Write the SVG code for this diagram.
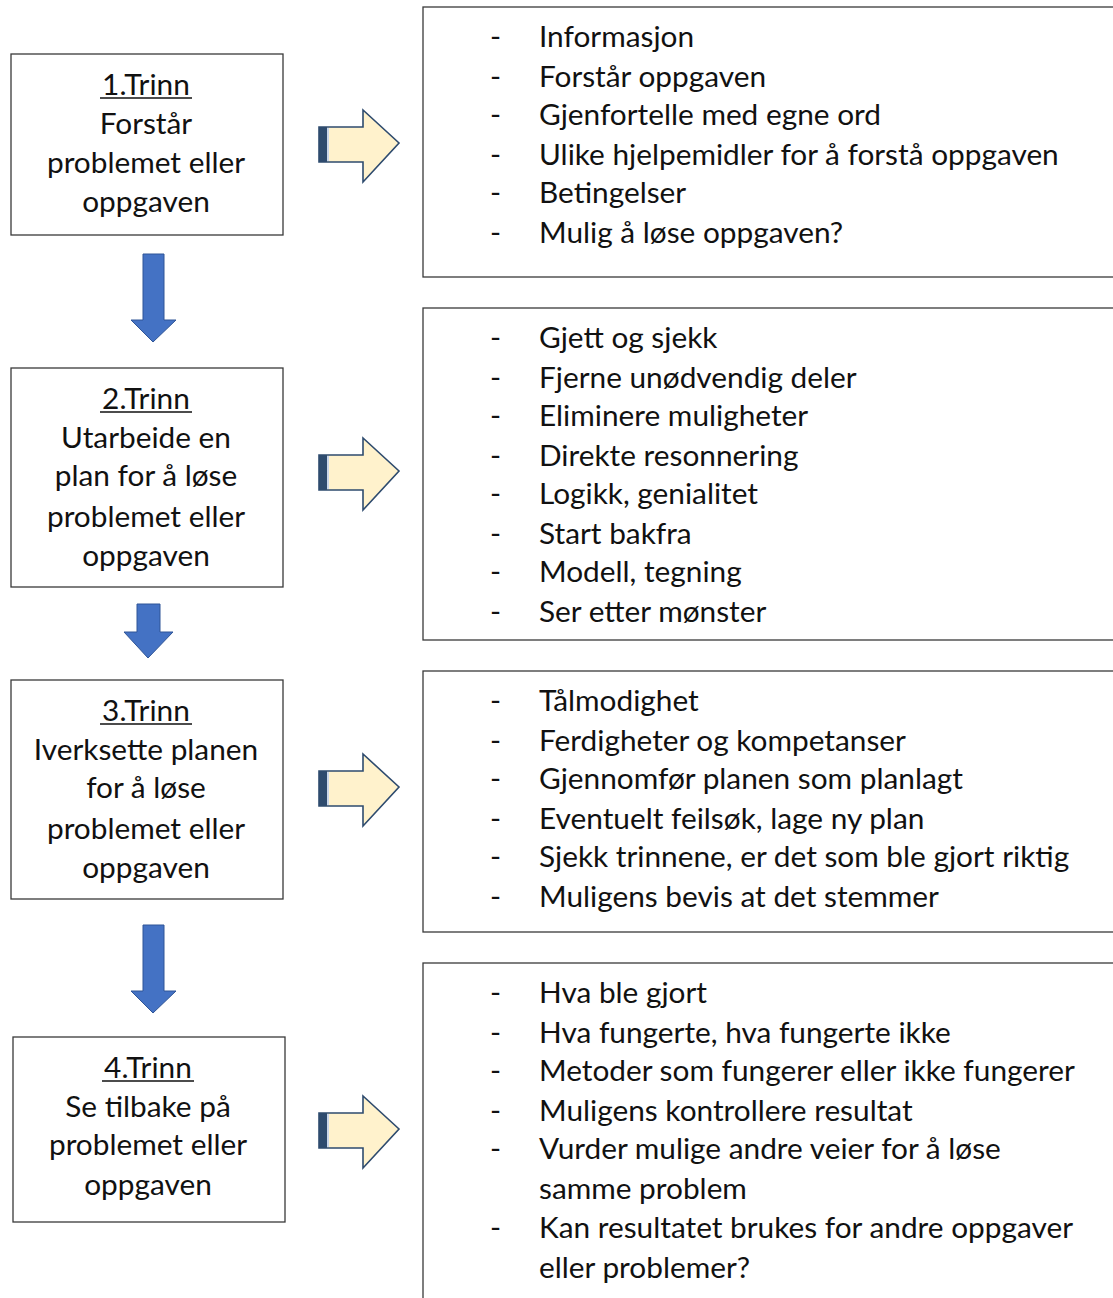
<svg xmlns="http://www.w3.org/2000/svg" width="1113" height="1298" viewBox="0 0 1113 1298">
<style>
.box{fill:#fff;stroke:#3a3a3a;stroke-width:1.3}
.t{font-family:Lato,"Liberation Sans",sans-serif;font-size:29.8px;fill:#111}
.c{text-anchor:middle}
.dn{fill:#4472C4;stroke:#2F5597;stroke-width:1}
.ra{fill:#FFF2CC;stroke:#2E4B6E;stroke-width:1.6}
.bar{fill:#2E4B6E}
.ul{stroke:#111;stroke-width:1.6}
</style>
<rect width="1113" height="1298" fill="#fff"/>
<defs>
<g id="rarrow">
<path class="ra" d="M319,127 H363 V110 L399,143 L363,182 V162 H319 Z"/>
<rect class="bar" x="319" y="127" width="8" height="35"/>
<rect fill="#C9D6EA" x="327" y="128" width="2" height="33"/>
</g>
</defs>
<g id="connectors">
<path class="dn" d="M143,254 H164 V320 H176 L153,342 L131,320 H143 Z"/>
<path class="dn" d="M137,604 H160 V632 H173 L148,658 L124,632 H137 Z"/>
<path class="dn" d="M143,925 H164 V991 H176 L153,1013 L131,991 H143 Z"/>
<use href="#rarrow"/>
<use href="#rarrow" transform="translate(0,328)"/>
<use href="#rarrow" transform="translate(0,644)"/>
<use href="#rarrow" transform="translate(0,986)"/>
</g>
<g id="step1">
<rect class="box" x="11" y="54" width="272" height="181"/>
<text class="t c" x="146" y="95">1.Trinn</text>
<line class="ul" x1="100" y1="98" x2="192" y2="98"/>
<text class="t c" x="146" y="134">Forstår</text>
<text class="t c" x="146" y="173">problemet eller</text>
<text class="t c" x="146" y="212">oppgaven</text>
</g>
<g id="step2">
<rect class="box" x="11" y="368" width="272" height="219"/>
<text class="t c" x="146" y="409">2.Trinn</text>
<line class="ul" x1="100" y1="412" x2="192" y2="412"/>
<text class="t c" x="146" y="448">Utarbeide en</text>
<text class="t c" x="146" y="486">plan for å løse</text>
<text class="t c" x="146" y="527">problemet eller</text>
<text class="t c" x="146" y="566">oppgaven</text>
</g>
<g id="step3">
<rect class="box" x="11" y="680" width="272" height="219"/>
<text class="t c" x="146" y="721">3.Trinn</text>
<line class="ul" x1="100" y1="724" x2="192" y2="724"/>
<text class="t c" x="146" y="760">Iverksette planen</text>
<text class="t c" x="146" y="798">for å løse</text>
<text class="t c" x="146" y="839">problemet eller</text>
<text class="t c" x="146" y="878">oppgaven</text>
</g>
<g id="step4">
<rect class="box" x="13" y="1037" width="272" height="185"/>
<text class="t c" x="148" y="1078">4.Trinn</text>
<line class="ul" x1="102" y1="1081" x2="194" y2="1081"/>
<text class="t c" x="148" y="1117">Se tilbake på</text>
<text class="t c" x="148" y="1155">problemet eller</text>
<text class="t c" x="148" y="1195">oppgaven</text>
</g>
<g id="list1">
<rect class="box" x="423" y="7" width="700" height="270"/>
<text class="t" x="490" y="47">-</text><text class="t" x="539" y="47">Informasjon</text>
<text class="t" x="490" y="87">-</text><text class="t" x="539" y="87">Forstår oppgaven</text>
<text class="t" x="490" y="125">-</text><text class="t" x="539" y="125">Gjenfortelle med egne ord</text>
<text class="t" x="490" y="165">-</text><text class="t" x="539" y="165">Ulike hjelpemidler for å forstå oppgaven</text>
<text class="t" x="490" y="203">-</text><text class="t" x="539" y="203">Betingelser</text>
<text class="t" x="490" y="243">-</text><text class="t" x="539" y="243">Mulig å løse oppgaven?</text>
</g>
<g id="list2">
<rect class="box" x="423" y="308" width="700" height="332"/>
<text class="t" x="490" y="348">-</text><text class="t" x="539" y="348">Gjett og sjekk</text>
<text class="t" x="490" y="388">-</text><text class="t" x="539" y="388">Fjerne unødvendig deler</text>
<text class="t" x="490" y="426">-</text><text class="t" x="539" y="426">Eliminere muligheter</text>
<text class="t" x="490" y="466">-</text><text class="t" x="539" y="466">Direkte resonnering</text>
<text class="t" x="490" y="504">-</text><text class="t" x="539" y="504">Logikk, genialitet</text>
<text class="t" x="490" y="544">-</text><text class="t" x="539" y="544">Start bakfra</text>
<text class="t" x="490" y="582">-</text><text class="t" x="539" y="582">Modell, tegning</text>
<text class="t" x="490" y="622">-</text><text class="t" x="539" y="622">Ser etter mønster</text>
</g>
<g id="list3">
<rect class="box" x="423" y="671" width="700" height="261"/>
<text class="t" x="490" y="711">-</text><text class="t" x="539" y="711">Tålmodighet</text>
<text class="t" x="490" y="751">-</text><text class="t" x="539" y="751">Ferdigheter og kompetanser</text>
<text class="t" x="490" y="789">-</text><text class="t" x="539" y="789">Gjennomfør planen som planlagt</text>
<text class="t" x="490" y="829">-</text><text class="t" x="539" y="829">Eventuelt feilsøk, lage ny plan</text>
<text class="t" x="490" y="867">-</text><text class="t" x="539" y="867">Sjekk trinnene, er det som ble gjort riktig</text>
<text class="t" x="490" y="907">-</text><text class="t" x="539" y="907">Muligens bevis at det stemmer</text>
</g>
<g id="list4">
<rect class="box" x="423" y="963" width="700" height="345"/>
<text class="t" x="490" y="1003">-</text><text class="t" x="539" y="1003">Hva ble gjort</text>
<text class="t" x="490" y="1043">-</text><text class="t" x="539" y="1043">Hva fungerte, hva fungerte ikke</text>
<text class="t" x="490" y="1081">-</text><text class="t" x="539" y="1081">Metoder som fungerer eller ikke fungerer</text>
<text class="t" x="490" y="1121">-</text><text class="t" x="539" y="1121">Muligens kontrollere resultat</text>
<text class="t" x="490" y="1159">-</text><text class="t" x="539" y="1159">Vurder mulige andre veier for å løse</text>
<text class="t" x="539" y="1199">samme problem</text>
<text class="t" x="490" y="1238">-</text><text class="t" x="539" y="1238">Kan resultatet brukes for andre oppgaver</text>
<text class="t" x="539" y="1278">eller problemer?</text>
</g>
</svg>
